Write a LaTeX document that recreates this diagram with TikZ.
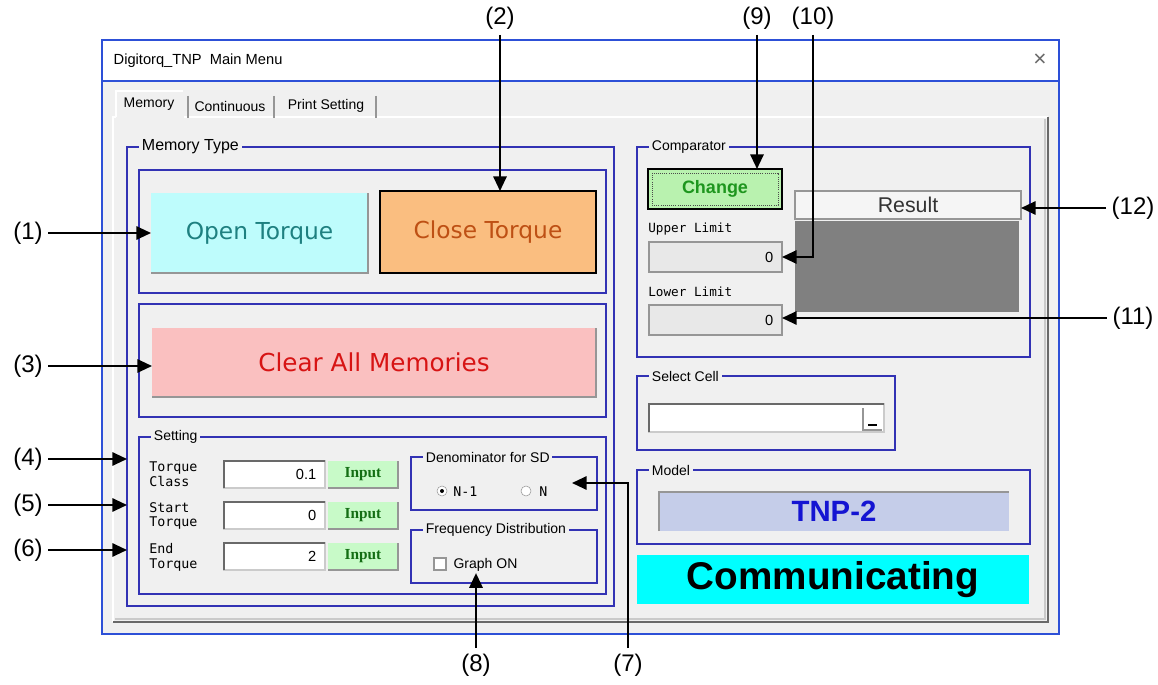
\documentclass[tikz,border=0pt]{standalone}
\usepackage{fontspec}
\setmainfont{Liberation Sans}
\newfontfamily\btnfont{DejaVu Sans}
\newfontfamily\gothfont{DejaVu Sans Mono}
\newfontfamily\inpfont{Liberation Serif}
\usepackage{tikz}
\usetikzlibrary{positioning,arrows.meta,fit}

\definecolor{winblue}{RGB}{45,80,215}
\definecolor{grpblue}{RGB}{50,50,180}
\definecolor{panel}{RGB}{240,240,240}
\definecolor{edgegray}{RGB}{150,150,150}
\definecolor{shadegray}{RGB}{105,105,105}
\definecolor{opencyan}{RGB}{190,252,252}
\definecolor{opentext}{RGB}{30,128,128}
\definecolor{closeorange}{RGB}{250,190,128}
\definecolor{closetext}{RGB}{190,80,20}
\definecolor{clearpink}{RGB}{250,192,192}
\definecolor{cleartext}{RGB}{215,20,20}
\definecolor{inputgreen}{RGB}{200,250,200}
\definecolor{inputtext}{RGB}{20,110,20}
\definecolor{changegreen}{RGB}{185,242,175}
\definecolor{changetext}{RGB}{30,150,30}
\definecolor{resultgray}{RGB}{128,128,128}
\definecolor{modelfill}{RGB}{197,205,233}
\definecolor{modeltext}{RGB}{20,20,210}
\definecolor{commcyan}{RGB}{0,255,255}
\newcommand{\setsize}[1]{\fontsize{#1}{#1}\selectfont}

\begin{document}
\begin{tikzpicture}[
x=0.75pt, y=-0.75pt,
box/.style={inner sep=0pt, outer sep=0pt},
group/.style={box, draw=grpblue, line width=1.1pt},
grouplabel/.style={fill=panel, inner sep=2pt, anchor=west, font=\setsize{10.5}},
raised/.style={box, fill=#1},
edge/.style={edgegray, line width=1.5pt},
sunken/.style={box, fill=white, draw=edgegray!50, line width=0.8pt},
monolabel/.style={anchor=west, align=left, inner sep=0pt, font=\gothfont\fontsize{10}{11}\selectfont},
inputtxt/.style={text=inputtext, font=\inpfont\bfseries\setsize{11.5}},
callout/.style={-{Triangle[length=11pt,width=10pt]}, line width=1.5pt},
numlabel/.style={font=\setsize{18}, inner sep=4pt}
]
    \useasboundingbox (0,0) rectangle (1158,685);

    %Window
    \fill[panel] (102,40) rectangle (1059,634);
    \fill[white] (102,40) rectangle (1059,81);
    \draw[winblue, line width=0.9pt] (102,81) -- (1059,81);
    \draw[winblue, line width=1.2pt] (102,40) rectangle (1059,634);
    \node[anchor=west, font=\setsize{11}] (title) at (109,61) {Digitorq\_TNP\ \ Main Menu};
    \node[font=\setsize{17}, text=shadegray] (closex) at (1040,60) {×};

    %Tabs
    \draw[white, line width=1.2pt] (113,622) -- (113,117) -- (1048,117);
    \draw[shadegray, line width=1.2pt] (1048,117) -- (1048,622) -- (113,622);
    \draw[edgegray!50, line width=0.8pt] (1045,119) -- (1045,619) -- (115,619);
    \fill[panel] (116,91) rectangle (184,118);
    \draw[white, line width=1pt] (116,117) -- (116,91) -- (183,91);
    \node[font=\setsize{10.5}] (tabmem) at (149,104) {Memory};
    \node[font=\setsize{10.5}] (tabcont) at (230,106) {Continuous};
    \node[font=\setsize{10.5}] (tabprint) at (326,106) {Print Setting};
    \foreach \sx in {188,274,376}
        \draw[edge] (\sx,96) -- (\sx,118);

    %Memory type
    \node[group, fit={(127,147) (614,606)}] (memtype) {};
    \node[grouplabel, font=\setsize{12}] (memtypelbl) at (139,147) {Memory Type};
    \node[group, fit={(139,170) (606,293)}] (torquebox) {};
    \node[raised=opencyan, fit={(151,193) (368,273)}] (open) {};
    \draw[edge] (open.north east) -- (open.south east) -- (open.south west);
    \node[text=opentext, font=\btnfont\setsize{17.5}] (opentxt) at (open) {Open Torque};
    \node[raised=closeorange, draw=black, line width=2pt, fit={(380,191) (596,273)}] (close) {};
    \node[text=closetext, font=\btnfont\setsize{17.5}] (closetxt) at (close) {Close Torque};
    \node[group, fit={(139,304) (606,417)}] (clearbox) {};
    \node[raised=clearpink, fit={(152,328) (596,397)}] (clear) {};
    \draw[edge] (clear.north east) -- (clear.south east) -- (clear.south west);
    \node[text=cleartext, font=\btnfont\setsize{18.5}] (cleartxt) at (clear) {Clear All Memories};

    %Setting
    \node[group, fit={(139,437) (606,594)}] (setting) {};
    \node[grouplabel] (settinglbl) at (151,437) {Setting};
    \node[monolabel] (tclbl) at (149,474) {Torque\\Class};
    \node[monolabel] (stlbl) at (149,516) {Start\\Torque};
    \node[monolabel] (etlbl) at (149,557) {End\\Torque};
    \foreach \nm/\sy/\val in {tc/461/0.1, st/502/0, et/543/2} {
        \node[sunken, fit={(224,\sy) (325,\sy+27)}] (\nm) {};
        \draw[shadegray, line width=1.5pt] (\nm.south west) -- (\nm.north west) -- (\nm.north east);
        \node[anchor=east, font=\setsize{11}] (\nm val) at ([xshift=-3pt]\nm.east) {\val};
        \node[raised=inputgreen, fit={(328,\sy) (398,\sy+27)}] (\nm btn) {};
        \draw[edge] (\nm btn.north east) -- (\nm btn.south east) -- (\nm btn.south west);
        \node[inputtxt] (\nm btntxt) at (\nm btn) {Input};
    }

    %Denominator and frequency
    \node[group, fit={(411,457) (597,510)}] (denom) {};
    \node[grouplabel] (denomlbl) at (423,457) {Denominator for SD};
    \draw[edgegray, fill=white] (442,491) circle (5);
    \fill (442,491) circle (2);
    \node[monolabel] (nminus) at (453,492) {N-1};
    \draw[edgegray, fill=white] (526,491) circle (5);
    \node[monolabel] (nfull) at (539,492) {N};
    \node[group, fit={(411,530) (597,583)}] (freq) {};
    \node[grouplabel] (freqlbl) at (423,530) {Frequency Distribution};
    \draw[edgegray, fill=white, line width=0.8pt] (434,558) rectangle (446,570);
    \node[anchor=west, inner sep=1pt, font=\setsize{10.5}] (graphon) at (452,565) {Graph ON};

    %Comparator
    \node[group, fit={(637,147) (1030,357)}] (comp) {};
    \node[grouplabel] (complbl) at (649,147) {Comparator};
    \node[raised=changegreen, draw=black, line width=2pt, fit={(648,169) (782,209)}] (change) {};
    \draw[black!70, densely dotted, line width=0.6pt]
        ([shift={(3pt,-3pt)}]change.north west) rectangle ([shift={(-3pt,3pt)}]change.south east);
    \node[text=changetext, font=\bfseries\setsize{13.5}] (changetxt) at (change) {Change};
    \node[box, fill=black!4, draw=edgegray, line width=0.8pt, fit={(795,191) (1021,219)}] (result) {};
    \node[text=black!80, font=\setsize{16}] (resulttxt) at (result) {Result};
    \node[box, fill=resultgray, fit={(795,221) (1019,312)}] (resultpad) {};
    \node[monolabel, font=\gothfont\setsize{9.5}] (upperlbl) at (648,229) {Upper Limit};
    \node[monolabel, font=\gothfont\setsize{9.5}] (lowerlbl) at (648,292) {Lower Limit};
    \foreach \nm/\sy in {upper/242, lower/305} {
        \node[box, fill=black!9, draw=edgegray, line width=0.8pt, fit={(649,\sy) (782,\sy+30)}] (\nm) {};
        \node[anchor=east, font=\setsize{11}] (\nm val) at ([xshift=-3pt]\nm.east) {0};
    }

    %Select cell
    \node[group, fit={(637,376) (895,450)}] (selcell) {};
    \node[grouplabel] (selcelllbl) at (649,376) {Select Cell};
    \node[sunken, fit={(649,404) (884,432)}] (combo) {};
    \draw[shadegray, line width=1.5pt] (combo.south west) -- (combo.north west) -- (combo.north east);
    \draw[edge, line width=1pt] (863,408) -- (863,430) -- (882,430);
    \draw[black, line width=2.2pt] (868,425) -- (877,425);

    %Model
    \node[group, fit={(637,470) (1030,544)}] (model) {};
    \node[grouplabel] (modellbl) at (649,470) {Model};
    \node[raised=modelfill, fit={(659,492) (1009,531)}] (tnp) {};
    \draw[edgegray, line width=1.5pt] (tnp.south west) -- (tnp.north west) -- (tnp.north east);
    \node[text=modeltext, font=\bfseries\setsize{22}] (tnptxt) at (tnp) {TNP-2};
    \node[raised=commcyan, fit={(637,555) (1029,604)}] (comm) {};
    \node[font=\bfseries\setsize{29}] (commtxt) at (comm) {Communicating};

    %Numbers
    \node[numlabel] (l1) at (28,233) {(1)};
    \node[numlabel] (l2) at (500,18) {(2)};
    \node[numlabel] (l3) at (28,366) {(3)};
    \node[numlabel] (l4) at (28,459) {(4)};
    \node[numlabel] (l5) at (28,505) {(5)};
    \node[numlabel] (l6) at (28,550) {(6)};
    \node[numlabel] (l7) at (628,665) {(7)};
    \node[numlabel] (l8) at (476,665) {(8)};
    \node[numlabel] (l9) at (757,18) {(9)};
    \node[numlabel] (l10) at (813,18) {(10)};
    \node[numlabel] (l11) at (1133,318) {(11)};
    \node[numlabel] (l12) at (1133,208) {(12)};
    \coordinate (t7) at (572,483);

    %Lines
    \draw[callout] (l1) -- (open.west);
    \draw[callout] (l2) -- (l2 |- close.north);
    \draw[callout] (l3) -- (l3 -| clear.west);
    \draw[callout] (l4) -- (l4 -| memtype.west);
    \draw[callout] (l5) -- (l5 -| memtype.west);
    \draw[callout] (l6) -- (l6 -| memtype.west);
    \draw[callout] (l7) |- (t7);
    \draw[callout] (l8) -- (l8 |- graphon.south);
    \draw[callout] (l9) -- (l9 |- change.north);
    \draw[callout] (l10) |- (upper.east);
    \draw[callout] (l11) -- (l11 -| lower.east);
    \draw[callout] (l12) -- (l12 -| result.east);
\end{tikzpicture}
\end{document}
